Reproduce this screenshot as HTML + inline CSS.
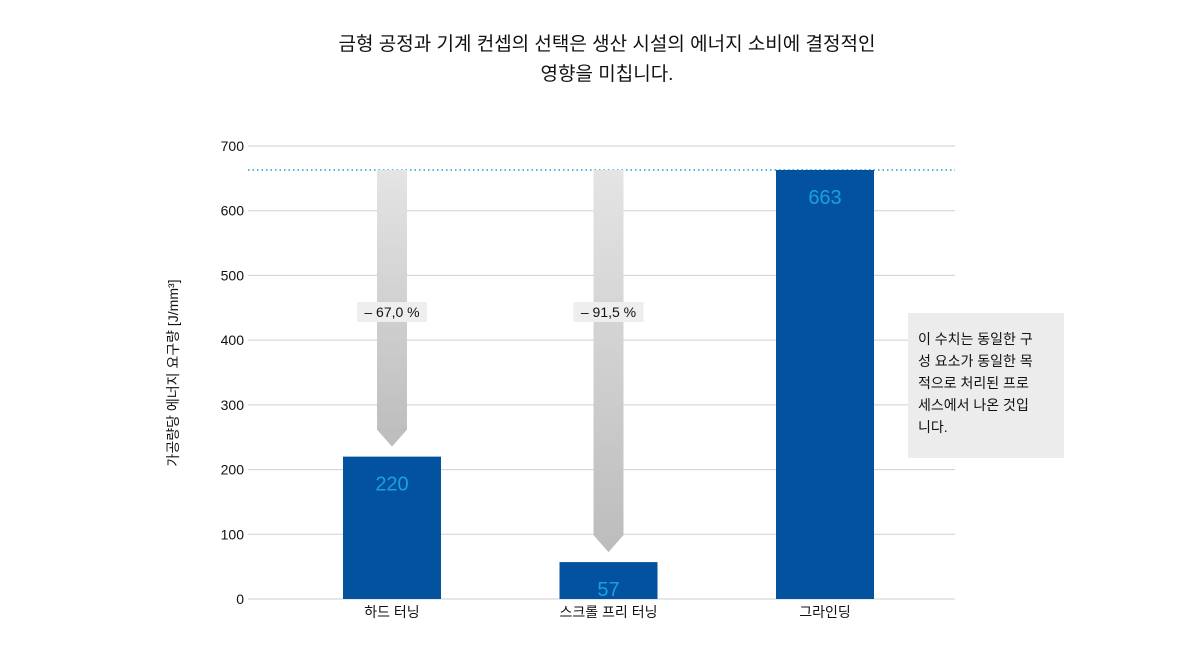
<!DOCTYPE html>
<html><head><meta charset="utf-8"><style>
body{margin:0;width:1184px;height:667px;background:#fff;font-family:"Liberation Sans","Noto Sans CJK KR",sans-serif;overflow:hidden}
</style></head><body>
<svg width="1184" height="667" font-family="Liberation Sans, Noto Sans CJK KR, sans-serif">
<defs><linearGradient id="g" x1="0" y1="0" x2="0" y2="1"><stop offset="0" stop-color="#e4e4e4"/><stop offset="1" stop-color="#bcbcbc"/></linearGradient></defs>
<text x="607" y="50" text-anchor="middle" font-size="19" fill="#111">금형 공정과 기계 컨셉의 선택은 생산 시설의 에너지 소비에 결정적인</text>
<text x="607" y="80" text-anchor="middle" font-size="19" fill="#111">영향을 미칩니다.</text>
<text transform="translate(178,373) rotate(-90)" text-anchor="middle" font-size="14" fill="#111">가공량당 에너지 요구량 [J/mm³]</text>
<g id="grid"></g><g id="arrows"></g><g id="bars"></g>
<rect x="908" y="313" width="156" height="145" fill="#ececec"/>
<text font-size="14" fill="#111">
<tspan x="918" y="344">이 수치는 동일한 구</tspan><tspan x="918" y="366">성 요소가 동일한 목</tspan><tspan x="918" y="388">적으로 처리된 프로</tspan><tspan x="918" y="410">세스에서 나온 것입</tspan><tspan x="918" y="432">니다.</tspan></text>
</svg>
<script>
const categories=["하드 터닝","스크롤 프리 터닝","그라인딩"];
const values=[220,57,663];
const reductions=["– 67,0 %","– 91,5 %"];
const yTicks=[0,100,200,300,400,500,600,700];
const ns="http://www.w3.org/2000/svg";
const y=v=>599-v*(453/700);
const xc=i=>392+i*216.5;
function mk(t,a,p){const e=document.createElementNS(ns,t);for(const k in a)e.setAttribute(k,a[k]);document.getElementById(p).appendChild(e);return e;}
yTicks.forEach(t=>{
 const l=mk('line',{x1:248,x2:955,y1:y(t),y2:y(t),stroke:'#cfcfcf','stroke-width':1},'grid');
 
 
 const tx=mk('text',{x:244,y:y(t)+5,'text-anchor':'end','font-size':14,fill:'#111'},'grid');tx.textContent=t;
 
 
});
const ref=mk('line',{x1:248,x2:955,y1:y(values[2]),y2:y(values[2]),stroke:'#1aa0d0','stroke-width':1.5,'stroke-dasharray':'1.5,3'},'grid');


values.forEach((v,i)=>{
 const r=mk('rect',{x:xc(i)-49,y:y(v),width:98,height:599-y(v),fill:'#03529f'},'bars');
 
 
 const t=mk('text',{x:xc(i),y:y(v)+34,'text-anchor':'middle','font-size':20,fill:'#1aa0e0'},'bars');t.textContent=v;
 
 
 const c=mk('text',{x:xc(i),y:617,'text-anchor':'middle','font-size':14,fill:'#111'},'bars');c.textContent=categories[i];
 
 
});
reductions.forEach((r,i)=>{
 const x=xc(i),top=y(values[2]),tip=y(values[i])-10,s=tip-17;
 const p=mk('path',{d:`M${x-15},${top}H${x+15}V${s}L${x},${tip}L${x-15},${s}Z`,fill:'url(#g)'},'arrows');
 
 
 const b=mk('rect',{x:x-35,y:302,width:70,height:20,fill:'#eeeeee'},'arrows');
 
 
 const t=mk('text',{x:x,y:317,'text-anchor':'middle','font-size':14,fill:'#111'},'arrows');t.textContent=r;
 
 
});
</script>
</body></html>
